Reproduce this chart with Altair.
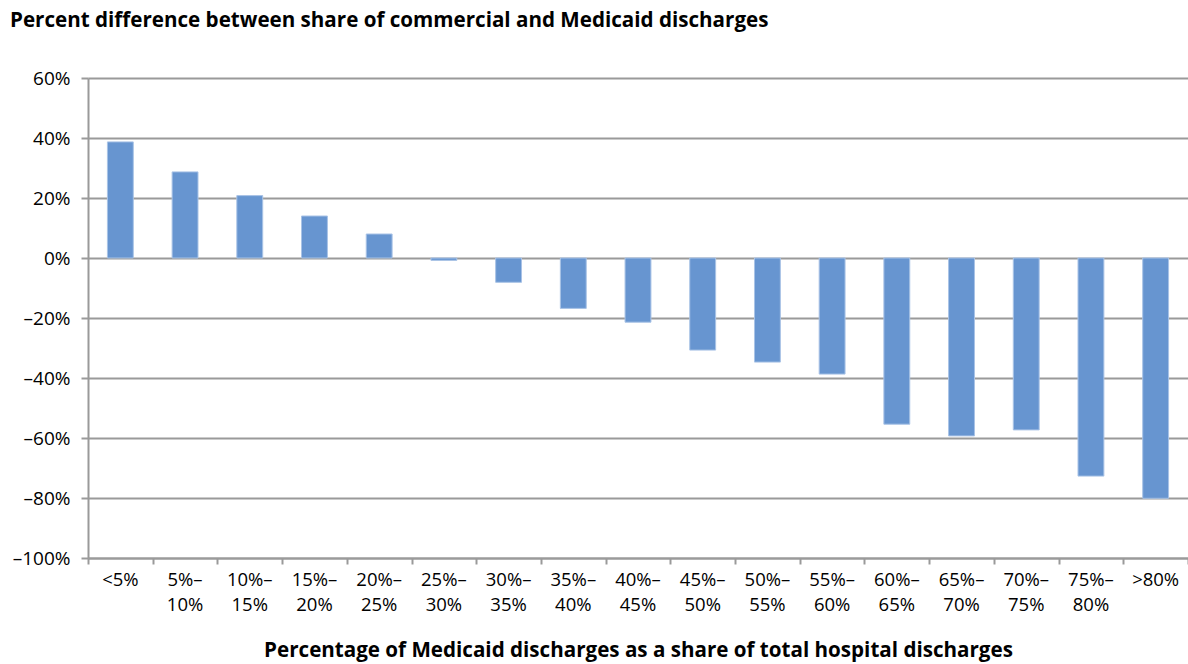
import altair as alt
import pandas as pd

categories = ["<5%", "5%–10%", "10%–15%", "15%–20%", "20%–25%", "25%–30%", "30%–35%",
              "35%–40%", "40%–45%", "45%–50%", "50%–55%", "55%–60%", "60%–65%",
              "65%–70%", "70%–75%", "75%–80%", ">80%"]
values = [38.7, 28.7, 20.8, 14.0, 8.0, -0.8, -8.1, -16.8, -21.4, -30.7, -34.7, -38.7,
          -55.4, -59.3, -57.3, -72.7, -80.1]
y_ticks = [-100, -80, -60, -40, -20, 0, 20, 40, 60]

title_text = "Percent difference between share of commercial and Medicaid discharges"
x_title = "Percentage of Medicaid discharges as a share of total hospital discharges"

# two-line versions of the category labels ("5%–" / "10%")
two_line = [c.replace("–", "–\n") for c in categories]

df = pd.DataFrame({"cat": categories, "val": values, "lab": two_line})

FONT = "Open Sans"
GRID = "#9a9a9a"

y_label_expr = "(datum.value < 0 ? '–' : '') + abs(datum.value) + '%'"

x_enc = alt.X("cat:N", sort=categories,
              scale=alt.Scale(paddingInner=0, paddingOuter=0),
              axis=alt.Axis(title=x_title, orient="bottom", labels=False,
                            tickBand="extent", ticks=True, tickSize=6, tickWidth=2,
                            tickColor=GRID, domainColor=GRID, domainWidth=2,
                            titleFont=FONT, titleFontSize=20.6, titleFontWeight="bold",
                            titleColor="black", titlePadding=75, grid=False))

bars = alt.Chart(df).mark_bar(
    color="#6795d0", stroke="#a9c3e6", strokeWidth=1, width=alt.RelativeBandSize(0.4)
).encode(
    x=x_enc,
    y=alt.Y("val:Q", scale=alt.Scale(domain=[-100, 60], nice=False),
            axis=alt.Axis(title=None, values=y_ticks, labelExpr=y_label_expr,
                          grid=True, gridColor=GRID, gridWidth=2,
                          domainColor=GRID, domainWidth=2,
                          tickColor=GRID, tickWidth=2, tickSize=7,
                          labelFont=FONT, labelFontSize=19, labelColor="black",
                          labelPadding=11)),
)

labels = alt.Chart(df).mark_text(
    font=FONT, fontSize=18.5, color="black", baseline="top", align="center",
    lineBreak="\n", lineHeight=25
).encode(
    x=alt.X("cat:N", sort=categories),
    y=alt.value(493),
    text="lab:N",
)

chart = alt.layer(bars, labels).properties(
    width=1100, height=480,
    title=alt.TitleParams(title_text, anchor="start", frame="group", dx=-78,
                          font=FONT, fontSize=20.6, fontWeight="bold", color="black",
                          offset=37),
    autosize=alt.AutoSizeParams(type="none"),
    padding={"left": 88, "top": 78, "right": 0, "bottom": 106},
).configure_view(strokeWidth=0)

chart.save("out.html", embed_options={"renderer": "svg", "actions": False})
